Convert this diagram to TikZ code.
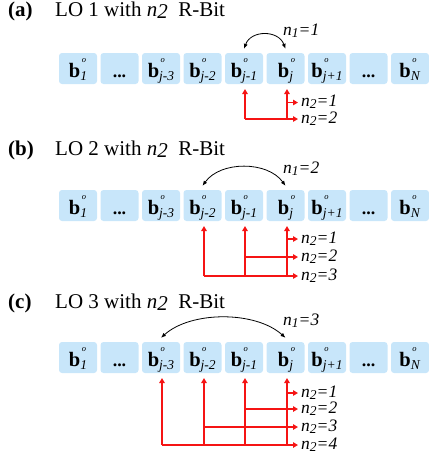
\documentclass[tikz,border=0pt]{standalone}
\usepackage{fontspec}
\setmainfont{Liberation Serif}
\usetikzlibrary{arrows.meta}
\definecolor{boxblue}{RGB}{200,230,250}
\definecolor{rred}{RGB}{245,20,20}
\newcommand{\bb}[1]{\textbf{b}\rlap{\kern1.5pt\raisebox{15pt}{\fontsize{8.5}{9}\selectfont\textit{o}}}\raisebox{-3pt}{\fontsize{13.5}{14}\selectfont\textit{#1}}}
\newcommand{\bdots}{{\fontsize{18}{20}\selectfont\textbf{...}}}
\newcommand{\nl}[2]{\textit{n}\raisebox{-2pt}[0pt][0pt]{\fontsize{13.5}{14}\selectfont\textit{#1}}\textit{=#2}}
\tikzset{
  box/.style={fill=boxblue, rounded corners=3pt, minimum width=38pt, minimum height=31pt,
    inner sep=0pt, text height=17pt, text depth=0pt, font=\fontsize{20.5}{22}\selectfont},
  ttl/.style={inner sep=0pt, font=\fontsize{21}{24}\selectfont},
  lab/.style={inner sep=0pt, font=\fontsize{17.5}{20}\selectfont},
  arcarr/.style={black, line width=0.8pt, {Latex[length=5pt,width=4pt]}-{Latex[length=5pt,width=4pt]}},
  rarr/.style={rred, line width=1.5pt, -{Triangle[length=5pt,width=5.5pt]}}
}
\begin{document}
\begin{tikzpicture}[x=1pt,y=-1pt]
\useasboundingbox (0,0) rectangle (429,459);
\foreach \p/\N/\ty/\tb/\nb/\cc/\hh/\rows/\NN in {a/1/53/16/35/19/7/{102.5,119}/2, b/2/190/155/173/25/18/{239,257,276}/3, c/3/342/308/325/27/30/{393,409,427,445}/4} {
  \node[ttl, anchor=base west] (\p-t) at (8,\tb) {\textbf{(\p)}};
  \node[ttl, anchor=base west] (\p-s) at (55,\tb) {LO \N\ with \textit{n}\raisebox{-2pt}{\textit{2}}\ \ R-Bit};
  \foreach \i/\c in {1/{\bb{1}},2/{\bdots},3/{\bb{j-3}},4/{\bb{j-2}},5/{\bb{j-1}},6/{\bb{j}},7/{\bb{j+1}},8/{\bdots},9/{\bb{N}}} {
    \node[box] (\p\i) at ({78+41.5*(\i-1)},{\ty+15.5}) {\c};
    \coordinate (\p-v\i) at ({int(78+41.5*(\i-1)+1.5)},{\ty+31});
  }
  \pgfmathtruncatemacro\lb{6-\N}
  \draw[arcarr] ([yshift=4pt]\p\lb.north) .. controls +(\hh,-\cc) and +(-\hh,-\cc) .. ([yshift=4pt]\p6.north);
  \node[lab, anchor=base west] (\p-n1) at (283,\nb) {\nl{1}{\N}};
  \foreach \r [count=\k] in \rows {
    \pgfmathtruncatemacro\bi{7-\k}
    \coordinate (\p-e\k) at (298,\r);
    \node[lab, anchor=base west] (\p-l\k) at (301,{\r+4}) {\nl{2}{\k}};
    \draw[rarr] (\p-v\bi |- \p-e\k) -- (\p-e\k);
  }
  \foreach \m in {0,...,\N} {
    \pgfmathtruncatemacro\bv{6-\m}
    \draw[rarr] (\p-v\bv |- \p-e\NN) -- ([yshift=-5pt]\p-v\bv);
  }
}
\end{tikzpicture}
\end{document}
